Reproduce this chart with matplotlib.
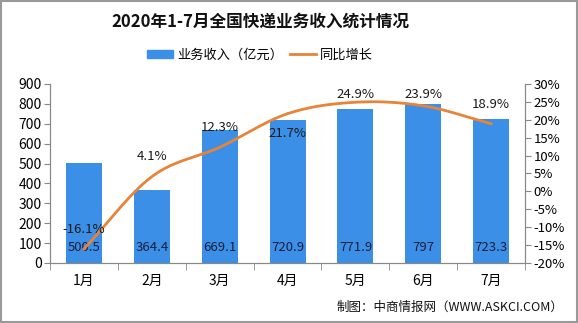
import matplotlib.pyplot as plt
import numpy as np
from matplotlib.patches import Patch, Rectangle
from matplotlib.lines import Line2D

plt.rcParams['font.family'] = ['Noto Sans CJK SC', 'DejaVu Sans']

# data
months = ['1月', '2月', '3月', '4月', '5月', '6月', '7月']
income = [500.5, 364.4, 669.1, 720.9, 771.9, 797, 723.3]
income_txt = ['500.5', '364.4', '669.1', '720.9', '771.9', '797', '723.3']
growth = [-16.1, 4.1, 12.3, 21.7, 24.9, 23.9, 18.9]

# label offsets for percent labels (pixels)
pct_dy = [19, 20, 20, -20, 8, 11, 19]

bar_color = '#3B8FE6'
line_color = '#E8833A'


def smooth(x, y, n=30):
    # catmull-rom curve through points, for drawing only
    x = np.asarray(x, float)
    y = np.asarray(y, float)
    px = np.concatenate([[2 * x[0] - x[1]], x, [2 * x[-1] - x[-2]]])
    py = np.concatenate([[2 * y[0] - y[1]], y, [2 * y[-1] - y[-2]]])
    xs, ys = [], []
    t = np.linspace(0, 1, n)
    for i in range(1, len(px) - 2):
        for p, out in ((px, xs), (py, ys)):
            p0, p1, p2, p3 = p[i - 1], p[i], p[i + 1], p[i + 2]
            out.extend(0.5 * (2 * p1 + (-p0 + p2) * t
                              + (2 * p0 - 5 * p1 + 4 * p2 - p3) * t ** 2
                              + (-p0 + 3 * p1 - 3 * p2 + p3) * t ** 3))
    return np.array(xs), np.array(ys)


fig = plt.figure(figsize=(5.78, 3.23), dpi=100)
ax = fig.add_axes([0.0865, 0.186, 0.822, 0.554])
ax2 = ax.twinx()

x = np.arange(len(months))
ax.bar(x, income, width=0.53, color=bar_color, zorder=2)
for xi, t in zip(x, income_txt):
    ax.text(xi, 80, t, ha='center', va='center', fontsize=9.5, color='#1a1f3d', zorder=5)

sx, sy = smooth(x, growth)
ax2.plot(sx, sy, color=line_color, lw=2)
for xi, g, dy in zip(x, growth, pct_dy):
    ax2.annotate('%.1f%%' % g, (xi, g), xytext=(0, dy), textcoords='offset pixels',
                 ha='center', va='center', fontsize=9.5, color='#1a1a1a')

ax.set_xlim(-0.5, 6.5)
ax.set_ylim(0, 900)
ax.set_yticks(range(0, 901, 100))
ax2.set_ylim(-20, 30)
ax2.set_yticks(range(-20, 31, 5))
ax2.set_yticklabels(['%d%%' % v for v in range(-20, 31, 5)])

ax.set_xticks(x)
ax.set_xticklabels(months, fontsize=10)
ax.set_xticks(np.arange(-0.5, 7, 1), minor=True)
ax.tick_params(axis='x', which='major', length=0, pad=8)
ax.tick_params(axis='x', which='minor', length=5, color='#888888')
ax.tick_params(axis='y', length=4, color='#888888', labelsize=10, pad=2)
ax2.tick_params(axis='y', length=4, color='#888888', labelsize=9.5, pad=2)

for a in (ax, ax2):
    a.spines['top'].set_visible(False)
    for s in ('left', 'right', 'bottom'):
        a.spines[s].set_color('#888888')

fig.text(0.45, 0.932, '2020年1-7月全国快递业务收入统计情况', ha='center', va='center',
         fontsize=12, fontweight='bold', color='#111111')

handles = [Patch(color=bar_color), Line2D([], [], color=line_color, lw=2)]
fig.legend(handles, ['业务收入（亿元）', '同比增长'], loc='center', bbox_to_anchor=(0.45, 0.83),
           ncol=2, frameon=False, fontsize=9.5, handlelength=2.0, handleheight=0.6,
           columnspacing=0.5, handletextpad=0.3)

fig.text(0.975, 0.05, '制图：中商情报网（WWW.ASKCI.COM）', ha='right', va='center',
         fontsize=9, color='#111111')

fig.patches.append(Rectangle((0.002, 0.003), 0.996, 0.994, transform=fig.transFigure,
                             fill=False, edgecolor='#999999', lw=1.5))

fig.savefig('out.png', dpi=100)
